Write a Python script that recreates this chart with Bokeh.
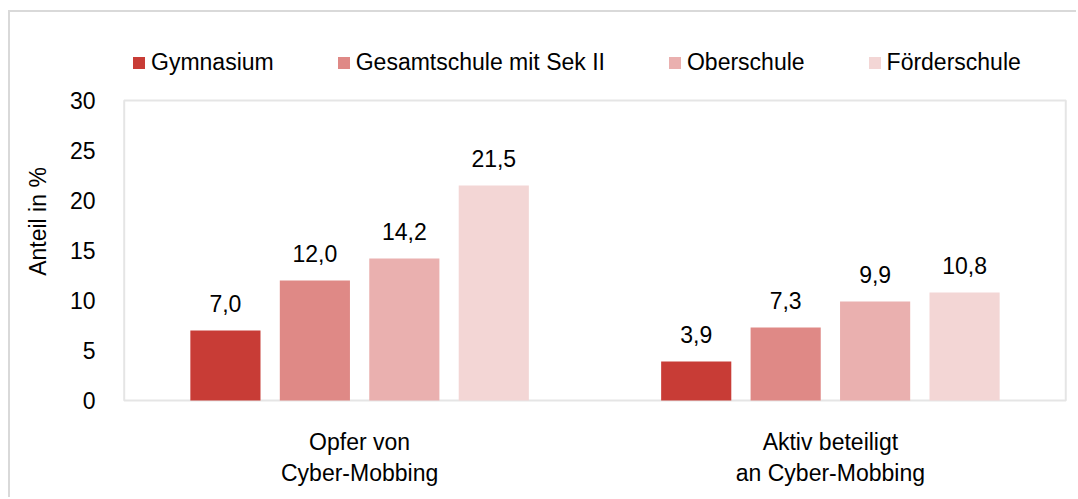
from bokeh.plotting import figure
from bokeh.models import (ColumnDataSource, Range1d, FactorRange, FixedTicker, Legend, LegendItem,
                          LabelSet, BoxAnnotation)
from bokeh.core.properties import value
from bokeh.transform import dodge
from bokeh.embed import file_html
from bokeh.resources import INLINE

categories = ["Opfer von\nCyber-Mobbing", "Aktiv beteiligt\nan Cyber-Mobbing"]
series_names = ["Gymnasium", "Gesamtschule mit Sek II", "Oberschule", "Förderschule"]
gymnasium = [7.0, 3.9]
gesamtschule = [12.0, 7.3]
oberschule = [14.2, 9.9]
foerderschule = [21.5, 10.8]
y_ticks = [0, 5, 10, 15, 20, 25, 30]

series_values = [gymnasium, gesamtschule, oberschule, foerderschule]
colors = ["#c83c36", "#df8986", "#eab0af", "#f3d6d5"]
offsets = [-0.285, -0.095, 0.095, 0.285]

FONT = "Liberation Sans"
FS = "23px"

p = figure(
    x_range=FactorRange(*categories, range_padding=0.01, range_padding_units="absolute"),
    y_range=Range1d(-0.2, 36),
    width=1068, height=487,
    output_backend="svg", toolbar_location=None,
    min_border_left=109, min_border_right=8, min_border_top=28, min_border_bottom=97,
)
p.styles = {"border-top": "2px solid #d9d9d9", "border-left": "2px solid #d9d9d9",
            "margin-left": "8px", "margin-top": "10px"}
p.outline_line_color = None

# plot-area box (0..30 on the value axis, across both categories)
p.add_layout(BoxAnnotation(left=0, right=len(categories), bottom=0, top=max(y_ticks),
                           fill_alpha=0, line_color="#aaaaaa", line_width=2, level="underlay"))

items = []
for name, vals, col, off in zip(series_names, series_values, colors, offsets):
    src = ColumnDataSource(dict(cat=categories, val=vals,
                                lab=[f"{v:.1f}".replace(".", ",") for v in vals]))
    r = p.vbar(x=dodge("cat", off, range=p.x_range), top="val", width=0.149,
               source=src, fill_color=col, line_color=None)
    items.append(LegendItem(label=name, renderers=[r]))
    lbl = LabelSet(x=dodge("cat", off, range=p.x_range), y="val", text="lab", source=src,
                   text_align="center", text_baseline="alphabetic", y_offset=19,
                   text_font=value(FONT), text_font_size=value(FS), text_color="#000000")
    p.add_layout(lbl)

legend = Legend(items=items, orientation="horizontal", location=(12, 326),
                glyph_width=15, glyph_height=15, label_standoff=5, spacing=62,
                padding=0, margin=0, border_line_color=None, background_fill_alpha=0,
                label_text_font=FONT, label_text_font_size=FS, label_text_color="#000000")
p.add_layout(legend, "center")

p.grid.visible = False

p.yaxis.ticker = FixedTicker(ticks=y_ticks)
p.yaxis.axis_label = "Anteil in %"
for ax in (p.xaxis[0], p.yaxis[0]):
    ax.axis_line_color = None
    ax.major_tick_line_color = None
    ax.minor_tick_line_color = None
    ax.major_label_text_font = FONT
    ax.major_label_text_font_size = FS
    ax.major_label_text_color = "#000000"
p.yaxis.major_label_standoff = 18
p.yaxis.axis_label_standoff = 16
p.yaxis.axis_label_text_font = FONT
p.yaxis.axis_label_text_font_size = FS
p.yaxis.axis_label_text_font_style = "normal"
p.yaxis.axis_label_text_color = "#000000"
p.xaxis.major_label_standoff = 20

open("out.html", "w").write(file_html(p, INLINE))
